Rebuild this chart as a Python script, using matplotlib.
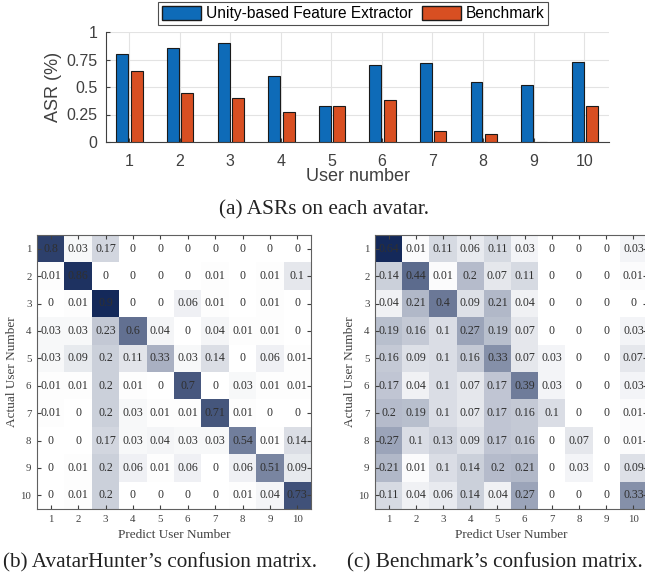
import matplotlib.pyplot as plt
import numpy as np
from matplotlib.colors import LinearSegmentedColormap
from matplotlib.patches import Patch

# ---- data ----
users = [1, 2, 3, 4, 5, 6, 7, 8, 9, 10]
asr_unity = [0.80, 0.855, 0.90, 0.60, 0.33, 0.70, 0.715, 0.545, 0.515, 0.73]
asr_bench = [0.645, 0.445, 0.40, 0.27, 0.33, 0.385, 0.10, 0.07, 0.0, 0.33]

cm_hunter = [
    [0.8, 0.03, 0.17, 0, 0, 0, 0, 0, 0, 0],
    [0.01, 0.86, 0, 0, 0, 0, 0.01, 0, 0.01, 0.1],
    [0, 0.01, 0.9, 0, 0, 0.06, 0.01, 0, 0.01, 0],
    [0.03, 0.03, 0.23, 0.6, 0.04, 0, 0.04, 0.01, 0.01, 0],
    [0.03, 0.09, 0.2, 0.11, 0.33, 0.03, 0.14, 0, 0.06, 0.01],
    [0.01, 0.01, 0.2, 0.01, 0, 0.7, 0, 0.03, 0.01, 0.01],
    [0.01, 0, 0.2, 0.03, 0.01, 0.01, 0.71, 0.01, 0, 0],
    [0, 0, 0.17, 0.03, 0.04, 0.03, 0.03, 0.54, 0.01, 0.14],
    [0, 0.01, 0.2, 0.06, 0.01, 0.06, 0, 0.06, 0.51, 0.09],
    [0, 0.01, 0.2, 0, 0, 0, 0, 0.01, 0.04, 0.73],
]
cm_bench = [
    [0.64, 0.01, 0.11, 0.06, 0.11, 0.03, 0, 0, 0, 0.03],
    [0.14, 0.44, 0.01, 0.2, 0.07, 0.11, 0, 0, 0, 0.01],
    [0.04, 0.21, 0.4, 0.09, 0.21, 0.04, 0, 0, 0, 0],
    [0.19, 0.16, 0.1, 0.27, 0.19, 0.07, 0, 0, 0, 0.03],
    [0.16, 0.09, 0.1, 0.16, 0.33, 0.07, 0.03, 0, 0, 0.07],
    [0.17, 0.04, 0.1, 0.07, 0.17, 0.39, 0.03, 0, 0, 0.03],
    [0.2, 0.19, 0.1, 0.07, 0.17, 0.16, 0.1, 0, 0, 0.01],
    [0.27, 0.1, 0.13, 0.09, 0.17, 0.16, 0, 0.07, 0, 0.01],
    [0.21, 0.01, 0.1, 0.14, 0.2, 0.21, 0, 0.03, 0, 0.09],
    [0.11, 0.04, 0.06, 0.14, 0.04, 0.27, 0, 0, 0, 0.33],
]

W, H = 645, 582
fig = plt.figure(figsize=(W / 100, H / 100), dpi=100)


def px_axes(x0, y0, x1, y1):
    # pixel box (top-left origin) -> figure axes
    return fig.add_axes([x0 / W, 1 - y1 / H, (x1 - x0) / W, (y1 - y0) / H])


gray = '#404040'
sans = ['Liberation Sans', 'DejaVu Sans']
serif = ['Liberation Serif', 'DejaVu Serif']

# ---- (a) bar chart ----
ax = px_axes(106, 32, 609, 142)
x = np.array(users)
ax.bar(x - 0.13, asr_unity, width=0.235, color='#0e6bb8', edgecolor='#1a1a1a', linewidth=0.8, zorder=3)
ax.bar(x + 0.155, asr_bench, width=0.235, color='#d84f22', edgecolor='#1a1a1a', linewidth=0.8, zorder=3)
ax.set_xlim(0.545, 10.49)
ax.set_ylim(0, 1)
ax.set_xticks(users)
ax.set_yticks([0, 0.25, 0.5, 0.75, 1])
ax.set_yticklabels(['0', '0.25', '0.5', '0.75', '1'])
ax.grid(True, color='#e3e3e3', linewidth=0.8, zorder=0)
for s in ['top', 'right']:
    ax.spines[s].set_visible(False)
for s in ['left', 'bottom']:
    ax.spines[s].set_color(gray)
ax.tick_params(axis='y', direction='in', length=3, colors=gray, labelsize=11.5, pad=6)
ax.tick_params(axis='x', direction='in', length=3, colors=gray, labelsize=11.5, pad=9)
for lab in ax.get_xticklabels() + ax.get_yticklabels():
    lab.set_family(sans)
ax.set_xlabel('User number', fontsize=13, color=gray, family=sans, labelpad=-1)
ax.set_ylabel('ASR (%)', fontsize=13, color=gray, family=sans, labelpad=3)
handles = [Patch(facecolor='#0e6bb8', edgecolor='#1a1a1a', label='Unity-based Feature Extractor'),
           Patch(facecolor='#d84f22', edgecolor='#1a1a1a', label='Benchmark')]
leg = ax.legend(handles=handles, ncol=2, loc='center', bbox_to_anchor=((353 - 106) / 503, 1.17),
                frameon=True, fancybox=False, handlelength=2.5, handleheight=1.0,
                columnspacing=0.6, handletextpad=0.3, borderpad=0.25, borderaxespad=0,
                prop={'family': sans, 'size': 11.2})
leg.get_frame().set_edgecolor('#222222')
leg.get_frame().set_linewidth(0.8)
fig.text(324 / W, 1 - 210 / H, '(a) ASRs on each avatar.', ha='center', va='center',
         fontsize=15.3, family=serif, color='#222222')

# ---- confusion matrices ----
cmap = LinearSegmentedColormap.from_list('navy', ['#ffffff', '#14295a'])


def draw_cm(ax, data):
    m = np.array(data)
    ax.imshow(m, cmap=cmap, vmin=0, vmax=m.max(), aspect='auto',
              extent=(0.5, 10.5, 10.5, 0.5), interpolation='nearest')
    for i in range(10):
        for j in range(10):
            ax.text(j + 1, i + 1, '{:g}'.format(m[i, j]), ha='center', va='center',
                    fontsize=8.6, family=serif, color='#303030')
    ax.set_xticks(users)
    ax.set_yticks(users)
    ax.tick_params(direction='in', length=3, colors=gray, labelsize=7.8,
                   top=True, right=True, pad=4)
    for lab in ax.get_xticklabels() + ax.get_yticklabels():
        lab.set_family(serif)
    for s in ax.spines.values():
        s.set_color('#606060')
    ax.set_xlabel('Predict User Number', fontsize=9.5, family=serif, color=gray, labelpad=4)
    ax.set_ylabel('Actual User Number', fontsize=9.5, family=serif, color=gray, labelpad=2)


axb = px_axes(37, 235, 311, 509)
draw_cm(axb, cm_hunter)
axc = px_axes(375, 235, 647, 509)
draw_cm(axc, cm_bench)

fig.text(160 / W, 1 - 563 / H, "(b) AvatarHunter\u2019s confusion matrix.", ha='center', va='center',
         fontsize=15.3, family=serif, color='#222222')
fig.text(495 / W, 1 - 563 / H, "(c) Benchmark\u2019s confusion matrix.", ha='center', va='center',
         fontsize=15.3, family=serif, color='#222222')

fig.savefig('out.png', dpi=100)
